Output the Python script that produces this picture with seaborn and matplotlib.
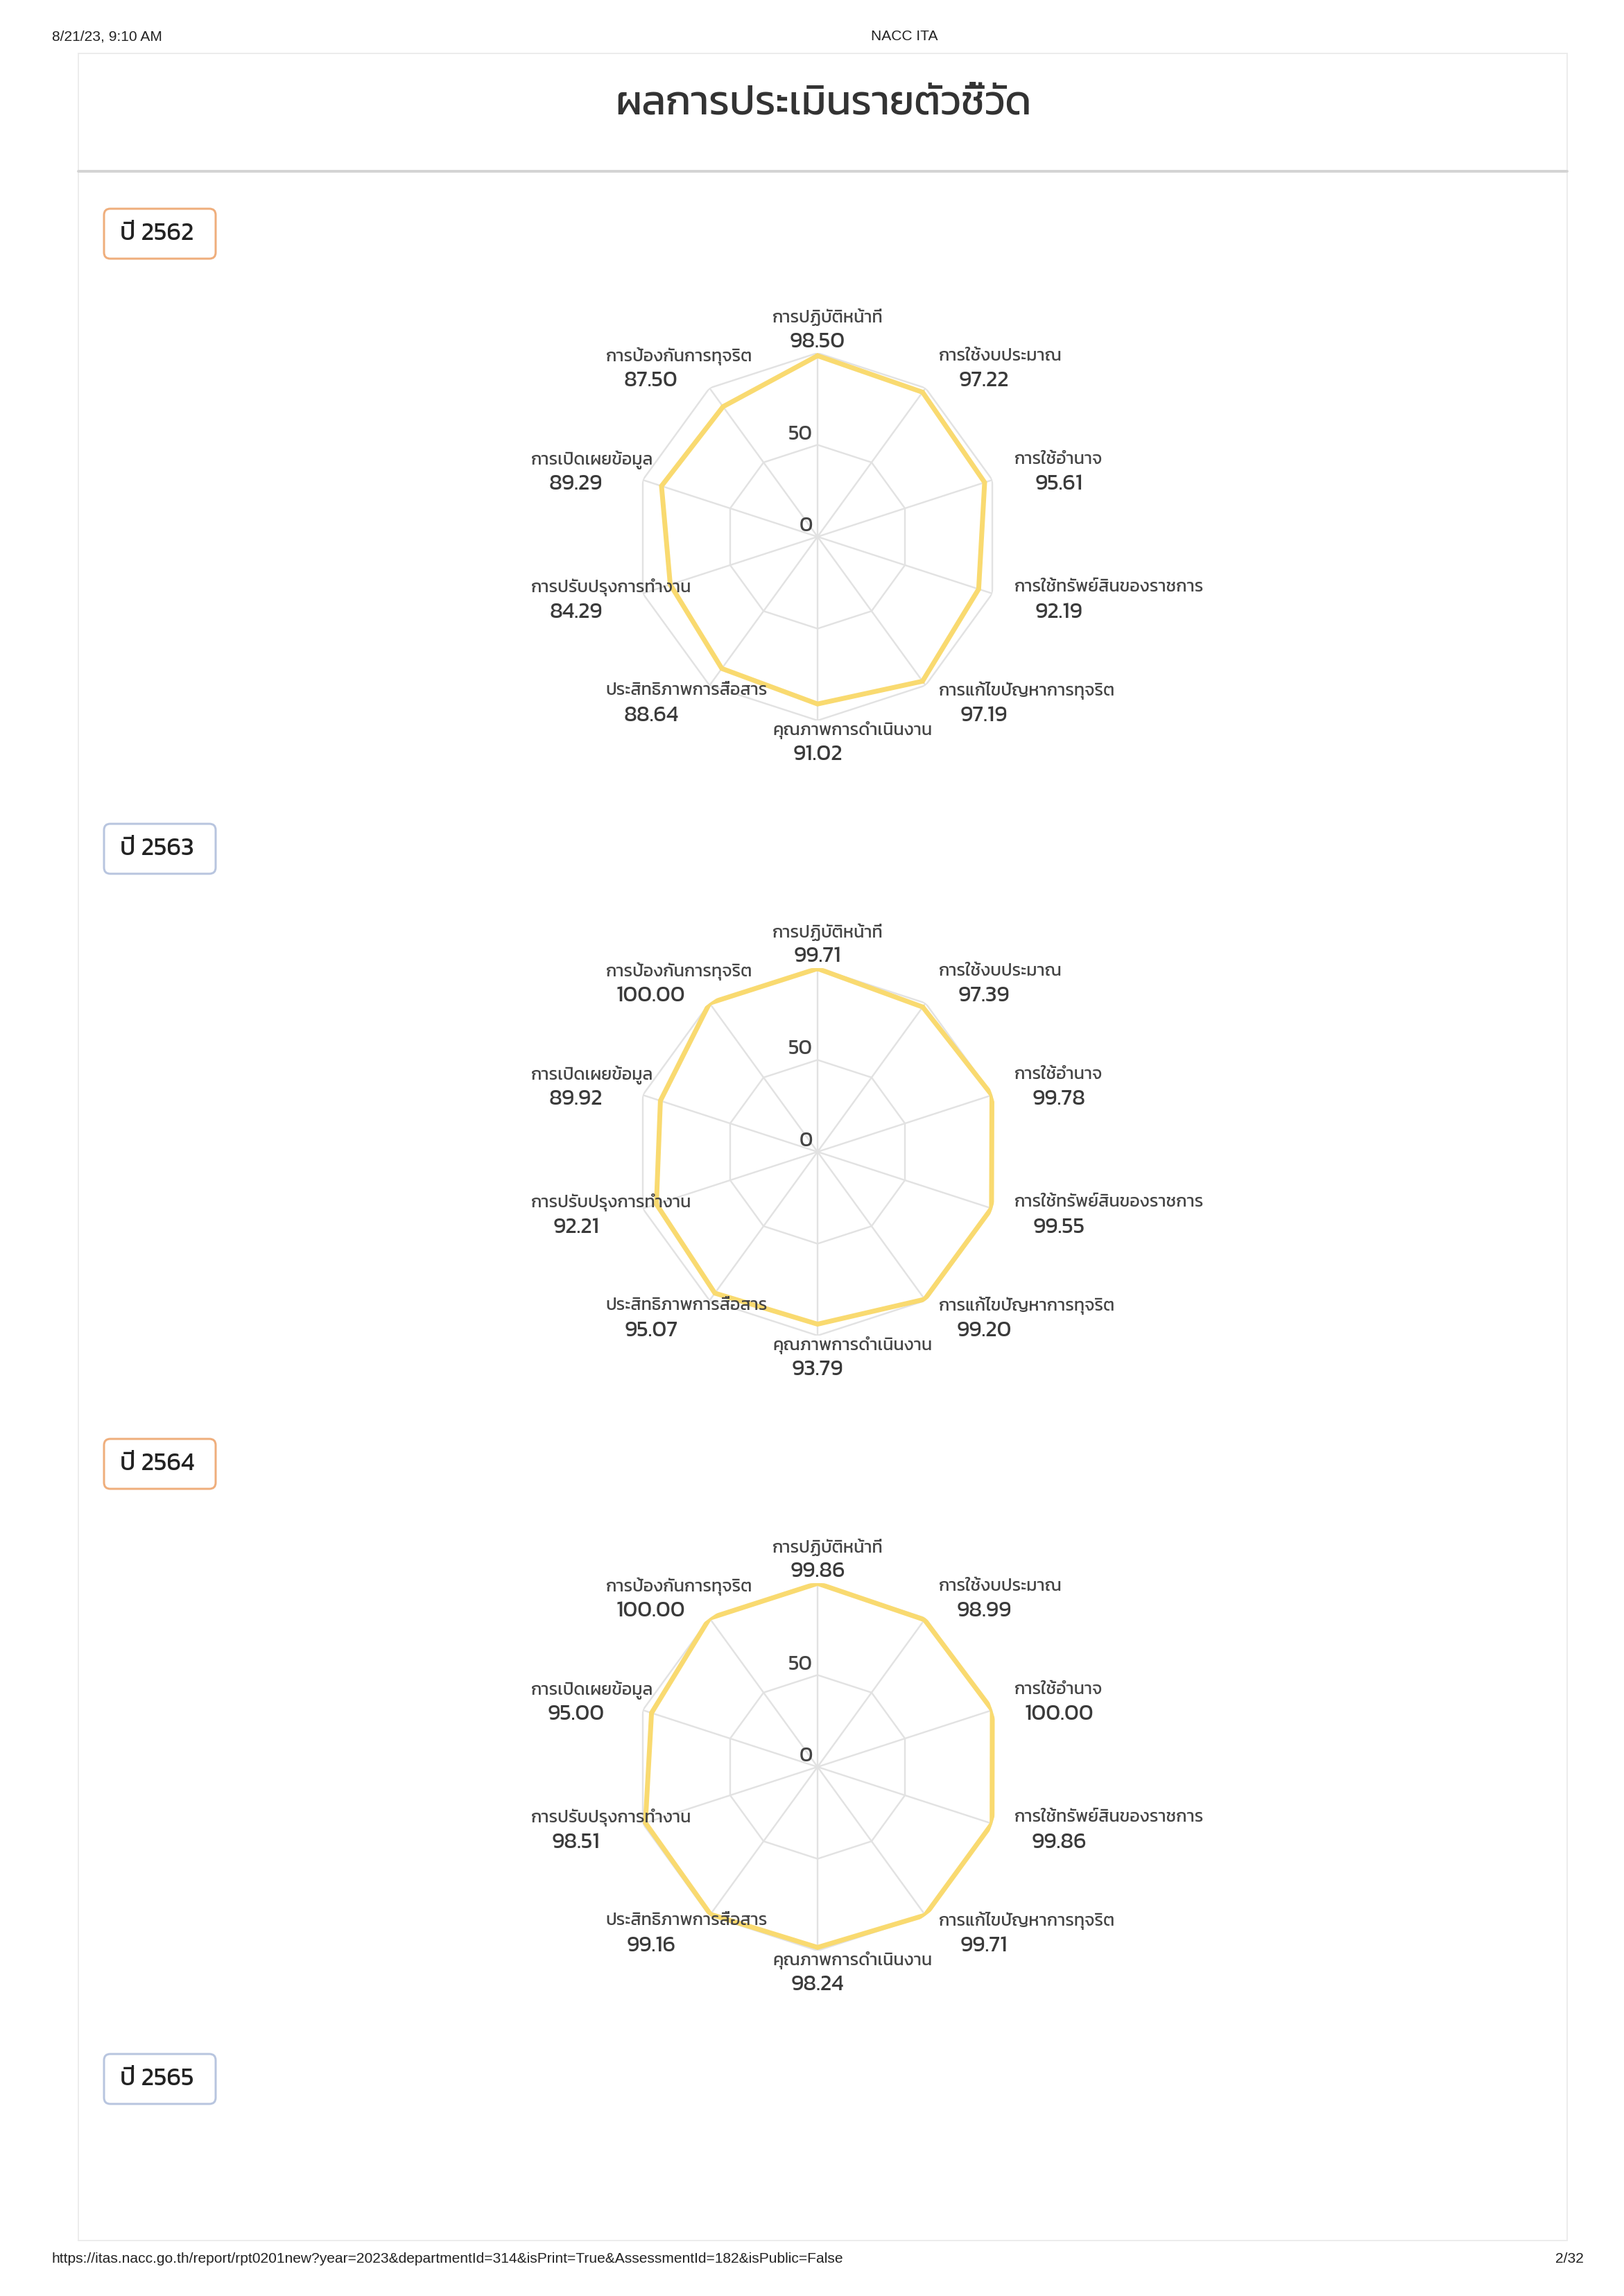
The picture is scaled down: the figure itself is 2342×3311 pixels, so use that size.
import numpy as np
import pandas as pd
import matplotlib
matplotlib.use("Agg")
import matplotlib.pyplot as plt
import matplotlib.transforms as mtransforms
from matplotlib.patches import FancyBboxPatch, Rectangle
from matplotlib import font_manager as fm
from matplotlib.ft2font import FT2Font
import seaborn as sns

# ---------------- data ----------------
categories = ["การปฏิบัติหน้าที่", "การใช้งบประมาณ", "การใช้อำนาจ",
              "การใช้ทรัพย์สินของราชการ", "การแก้ไขปัญหาการทุจริต",
              "คุณภาพการดำเนินงาน", "ประสิทธิภาพการสื่อสาร",
              "การปรับปรุงการทำงาน", "การเปิดเผยข้อมูล", "การป้องกันการทุจริต"]
years = ["2562", "2563", "2564", "2565"]
scores_2562 = [98.50, 97.22, 95.61, 92.19, 97.19, 91.02, 88.64, 84.29, 89.29, 87.50]
scores_2563 = [99.71, 97.39, 99.78, 99.55, 99.20, 93.79, 95.07, 92.21, 89.92, 100.00]
scores_2564 = [99.86, 98.99, 100.00, 99.86, 99.71, 98.24, 99.16, 98.51, 95.00, 100.00]
r_ticks = [0, 50]
r_rings = [50, 100]
r_max = 100
page_title = "ผลการประเมินรายตัวชี้วัด"
header_left = "8/21/23, 9:10 AM"
header_center = "NACC ITA"
footer_left = "https://itas.nacc.go.th/report/rpt0201new?year=2023&departmentId=314&isPrint=True&AssessmentId=182&isPublic=False"
footer_right = "2/32"

# ---------------- fonts ----------------
sns.set_theme(style="white")


def thai_fonts():
    found = []
    for fe in fm.fontManager.ttflist:
        try:
            cm = FT2Font(fe.fname).get_charmap()
        except Exception:
            continue
        if 0x0E01 in cm and 0x0E34 in cm:
            found.append(fe.name)
    return sorted(set(found))


TH = thai_fonts()
pref = ["Kanit", "Prompt", "Noto Sans Thai", "Sarabun", "Loma"]
thai_font = None
for p in pref:
    if p in TH:
        thai_font = p
        break
if thai_font is None and TH:
    thai_font = TH[0]
fam = ([thai_font] if thai_font else []) + ["DejaVu Sans"]
plt.rcParams["font.family"] = fam
latin = ["Liberation Sans", "DejaVu Sans"]

W, H = 2342, 3312
DPI = 100
PX = 72.0 / DPI  # points per pixel

fig = plt.figure(figsize=(W / DPI, H / DPI), dpi=DPI)
fig.patch.set_facecolor("white")

bg = fig.add_axes([0, 0, 1, 1])
bg.set_xlim(0, W)
bg.set_ylim(H, 0)
bg.axis("off")

# page header / footer
bg.text(75, 53, header_left, ha="left", va="center", fontsize=21 * PX,
        family=latin, color="#222222")
bg.text(1304, 53, header_center, ha="center", va="center", fontsize=21 * PX,
        family=latin, color="#222222")
bg.text(75, 3258, footer_left, ha="left", va="center", fontsize=21 * PX,
        family=latin, color="#222222")
bg.text(2284, 3258, footer_right, ha="right", va="center", fontsize=21 * PX,
        family=latin, color="#222222")

# card
bg.add_patch(Rectangle((113, 78), 2147, 3154, facecolor="white",
                       edgecolor="#ececec", lw=2 * PX, zorder=0))
bg.plot([113, 2260], [248, 248], color="#d4d4d4", lw=4 * PX, zorder=1)
bg.text(1187, 151, page_title, ha="center", va="center", fontsize=59 * PX,
        color="#333333")

# badges
badge_cy = [338, 1225, 2112, 2999]
badge_col = ["#EFAE7C", "#B8C5DF", "#EFAE7C", "#B8C5DF"]
for yr, cy, col in zip(years, badge_cy, badge_col):
    bg.add_patch(FancyBboxPatch((150, cy - 36), 161, 72,
                                boxstyle="round,pad=0,rounding_size=9",
                                facecolor="white", edgecolor=col, lw=3 * PX,
                                zorder=2))
    bg.text(173, cy, "ปี " + yr, ha="left", va="center",
            fontsize=36 * PX, weight="normal", color="#222222", zorder=3)

# radars
cx = 1179
radar_cy = [775, 1662, 2549]
R = 265           # pixel radius of r_max
R_LAB = 298       # pixel radius of label anchor
BLOCK_W = 130
n = len(categories)
theta = np.arange(n) * 2 * np.pi / n
theta_closed = np.append(theta, theta[0])
grid_col = "#e2e2e2"
line_col = "#F9DA70"

for scores, cy in zip([scores_2562, scores_2563, scores_2564], radar_cy):
    ax = fig.add_axes([(cx - R) / W, 1 - (cy + R) / H, 2 * R / W, 2 * R / H],
                      projection="polar")
    ax.set_theta_zero_location("N")
    ax.set_theta_direction(-1)
    ax.patch.set_visible(False)
    df = pd.DataFrame({"theta": theta_closed,
                       "score": np.append(scores, scores[0])})
    for t in r_rings:
        ax.plot(theta_closed, [t] * (n + 1), color=grid_col, lw=2.4 * PX,
                zorder=1)
    sns.lineplot(data=df, x="theta", y="score", sort=False, estimator=None,
                 ax=ax, color=line_col, linewidth=7 * PX, zorder=3)
    ax.lines[-1].set_solid_joinstyle("miter")
    ax.set_ylim(0, r_max)
    ax.set_xticks(theta)
    ax.set_xticklabels([])
    ax.set_yticks([])
    ax.set_xlabel("")
    ax.set_ylabel("")
    ax.xaxis.grid(True, color=grid_col, lw=2.4 * PX)
    ax.spines["polar"].set_visible(False)

    for t in r_ticks:
        tr = mtransforms.offset_copy(ax.transData, fig=fig, x=-7, y=3,
                                     units="dots")
        ax.text(0, t, str(t), transform=tr, ha="right", va="bottom",
                fontsize=30 * PX, color="#444444", zorder=5)

    r_lab = r_max * R_LAB / R
    for i, (name, val) in enumerate(zip(categories, scores)):
        s = np.sin(theta[i])
        if abs(s) < 1e-6:
            left = -BLOCK_W / 2
        elif s > 0:
            left = 0
        else:
            left = -BLOCK_W
        tr_n = mtransforms.offset_copy(ax.transData, fig=fig, x=left, y=20,
                                       units="dots")
        tr_v = mtransforms.offset_copy(ax.transData, fig=fig,
                                       x=left + BLOCK_W / 2, y=-16,
                                       units="dots")
        ax.text(theta[i], r_lab, name, transform=tr_n, ha="left",
                va="center", fontsize=25 * PX, color="#444444",
                clip_on=False)
        ax.text(theta[i], r_lab, f"{val:.2f}", transform=tr_v, ha="center",
                va="center", fontsize=32 * PX, color="#3a3a3a",
                clip_on=False)

fig.savefig("out.png", dpi=DPI, facecolor="white")
